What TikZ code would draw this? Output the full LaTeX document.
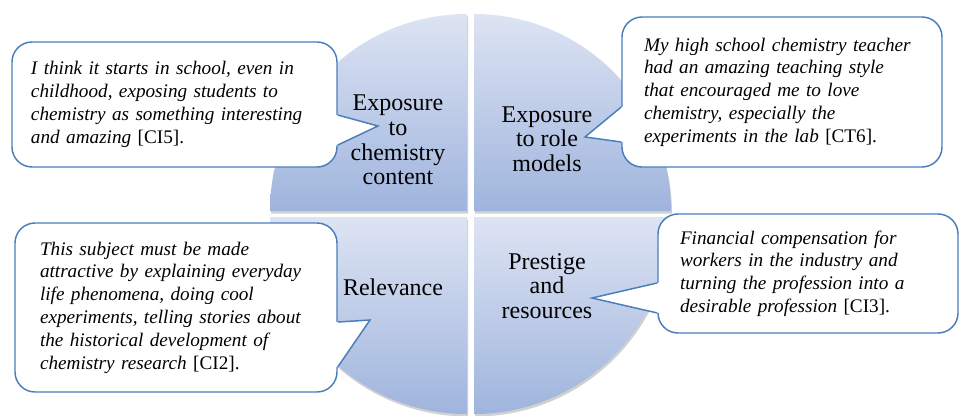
\documentclass[tikz,border=0pt]{standalone}
\usepackage{fontspec}
\setmainfont{Liberation Serif}
\usetikzlibrary{calc}
\hyphenpenalty=10000
\exhyphenpenalty=10000
\definecolor{edge}{HTML}{4A7EBB}
\definecolor{qtop}{HTML}{DDE4F3}
\definecolor{qbot}{HTML}{9FB4DD}
\tikzset{
 quad/.style={top color=qtop,bottom color=qbot,draw=none},
 qshade/.style={fill=black!45,opacity=.4},
 qlabel/.style={align=center,font=\fontsize{18}{18.4}\selectfont},
 bubble/.style={draw=edge,line width=1.1pt,fill=white,rounded corners=15pt,inner sep=0pt,
   align=left,font=\fontsize{14.4}{17.1}\selectfont\itshape},
 pointer/.style={draw=edge,line width=1.1pt},
}

\begin{document}
\begin{tikzpicture}[x=0.75pt,y=0.75pt]
 \useasboundingbox (0,0) rectangle (960,415);
 % four quarters of the disc
 \foreach \cx/\cy/\a in {467/204/90,474/204/0,467/198/180,474/198/270}{
  \fill[qshade] (\cx+1,\cy-2.5) -- ++(\a:197) arc[start angle=\a,delta angle=90,radius=197] -- cycle;
  \path[quad] (\cx,\cy) -- ++(\a:197) arc[start angle=\a,delta angle=90,radius=197] -- cycle;
 }
 \node[qlabel] (content) at (398,275) {Exposure\\to\\chemistry\\content};
 \node[qlabel] (models) at (547,276) {Exposure\\to role\\models};
 \node[qlabel] (relevance) at (393,128) {Relevance};
 \node[qlabel] (prestige) at (547,129) {Prestige\\and\\resources};
 % quotes
 \node[bubble,minimum width=243.75pt,minimum height=93.75pt,text width=215.25pt] (school) at (174.5,310.5)
  {I think it starts in school, even in\\childhood, exposing students to\\chemistry as something interesting\\and amazing \upshape[CI5].};
 \node[bubble,minimum width=240pt,minimum height=112.5pt,text width=207pt] (teacher) at (782,323)
  {My high school chemistry teacher\\had an amazing teaching style\\that encouraged me to love\\chemistry, especially the\\experiments in the lab \upshape[CT6].};
 \node[bubble,minimum width=241.5pt,minimum height=126.75pt,text width=204pt] (everyday) at (176,107.5)
  {This subject must be made\\attractive by explaining everyday\\life phenomena, doing cool\\experiments, telling stories about\\the historical development of\\chemistry research \upshape[CI2].};
 \node[bubble,minimum width=225pt,minimum height=89.25pt,text width=192pt] (career) at (808,141.5)
  {Financial compensation for\\workers in the industry and\\turning the profession into a\\desirable profession \upshape[CI3].};
 \coordinate (school-tip) at (378,289);
 \coordinate (teacher-tip) at (585,278);
 \coordinate (everyday-tip) at (370,95);
 \coordinate (career-tip) at (592,117);
 \foreach \n/\s/\dx/\ya/\yb in {school/east/-2pt/-7.9pt/-30.4pt,teacher/west/2pt/-11.25pt/-37.5pt,
   everyday/east/-2pt/-10.9pt/-44.6pt,career/west/2pt/-7.1pt/-29.6pt}{
  \fill[white] ([xshift=\dx,yshift=\ya]\n.\s) -- ([yshift=\ya]\n.\s) -- (\n-tip) -- ([yshift=\yb]\n.\s)
   -- ([xshift=\dx,yshift=\yb]\n.\s) -- cycle;
  \draw[pointer] ([yshift=\ya]\n.\s) -- (\n-tip) -- ([yshift=\yb]\n.\s);
 }
\end{tikzpicture}
\end{document}
